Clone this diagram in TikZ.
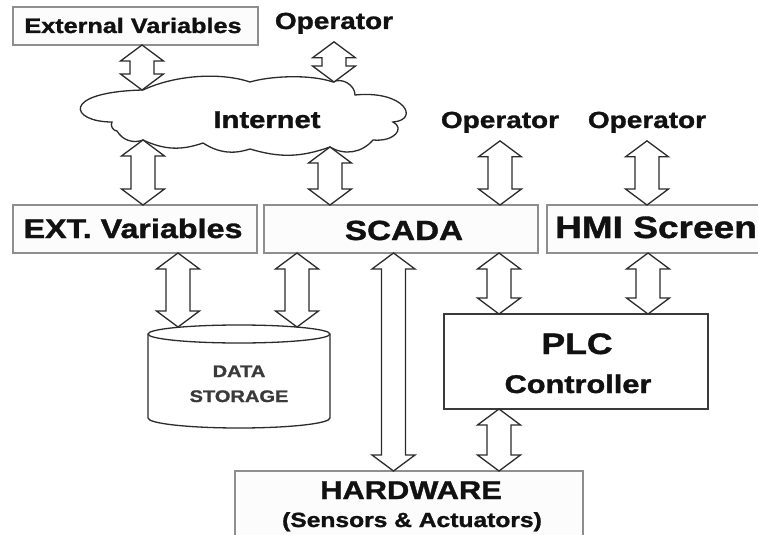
\documentclass[tikz,border=0pt]{standalone}
\usepackage{fontspec}
\setmainfont{Liberation Sans}[BoldFeatures={FakeBold=1.2}]
\usetikzlibrary{calc}
\definecolor{textc}{HTML}{111111}
\definecolor{edgec}{HTML}{8E8E8E}
\definecolor{darkedge}{HTML}{3A3A3A}
\definecolor{arrowc}{HTML}{2B2B2B}
\definecolor{boxfill}{HTML}{FCFCFC}
% wide bold lettering
\newcommand{\wtxt}[1]{\scalebox{1.2}[1]{#1}}
\newcommand{\fsz}[1]{\fontsize{#1}{#1}\selectfont\bfseries}

\begin{document}
\begin{tikzpicture}[x=1pt,y=-1pt,
  lightbox/.style={draw=edgec, fill=boxfill, line width=1.4pt, inner sep=0, outer sep=0, rectangle},
  darkbox/.style={draw=darkedge, fill=white, line width=1.6pt, inner sep=0, outer sep=0, rectangle},
  lbl/.style={inner sep=0, outer sep=0, anchor=base, text=textc},
  oplbl/.style={lbl, outer ysep=8pt, font=\fsz{23.3}},
  outline/.style={draw=arrowc, line width=1.3pt},
  dblarrow/.style={outline, fill=white, line join=miter,
    to path={let \p1=(\tikztostart), \p2=(\tikztotarget) in
      (\x1,\y1) -- (\x1+21.5pt,\y1-16pt) -- (\x1+12pt,\y1-16pt) -- (\x1+12pt,\y2+16pt)
      -- (\x1+21.5pt,\y2+16pt) -- (\x1,\y2) -- (\x1-21.5pt,\y2+16pt) -- (\x1-12pt,\y2+16pt)
      -- (\x1-12pt,\y1-16pt) -- (\x1-21.5pt,\y1-16pt) -- cycle}}
]
\useasboundingbox (0,0) rectangle (758,535);
\clip (0,0) rectangle (758,535);

% column positions of the vertical connectors
\coordinate (xA) at (142,0);
\coordinate (xG) at (178,0);
\coordinate (xH) at (297,0);
\coordinate (xI) at (393.5,0);
\coordinate (xJ) at (499,0);
\coordinate (xK) at (648,0);

% boxes
\node[lightbox, minimum width=245, minimum height=38] (extsmall) at (135.5,26) {};
\node[lightbox, minimum width=244, minimum height=48] (extbig) at (135,229) {};
\node[lightbox, minimum width=274, minimum height=48] (scada) at (401,229) {};
\node[lightbox, minimum width=218, minimum height=48] (hmi) at (656,229) {};
\node[darkbox, minimum width=264, minimum height=95] (plc) at (576,361.5) {};
\node[lightbox, minimum width=348, minimum height=89] (hw) at (409,515.5) {};

% Internet cloud, built from its cusp points
\coordinate (q0) at (112,122);
\coordinate (cA) at (143,90);
\coordinate (q2) at (250,82);
\coordinate (cB) at (333,82);
\coordinate (q4) at (355,95);
\coordinate (q5) at (393,122);
\coordinate (q6) at (373,140);
\coordinate (cD) at (330,147);
\coordinate (q8) at (250,149);
\coordinate (q9) at (203,143);
\coordinate (cC) at (143,140);
\coordinate (q11) at (117,131);
\draw[outline, fill=white]
  (q0) .. controls (70,122) and (60,92) .. (cA)
  .. controls (175,75) and (220,72) .. (q2)
  .. controls (270,76) and (310,74) .. (cB)
  to[bend left=60] (q4)
  .. controls (405,90) and (420,120) .. (q5)
  .. controls (405,128) and (395,142) .. (q6)
  to[bend left=40] (cD) to[bend left=18] (q8) to[bend left=25] (q9)
  to[bend left=22] (cC) to[bend left=40] (q11) to[bend left=60] (q0) -- cycle;

% data storage cylinder
\draw[outline, fill=white]
  (148,334) -- (148,418) arc[start angle=180, end angle=0, x radius=91, y radius=10]
  -- (330,334) arc[start angle=0, end angle=-180, x radius=91, y radius=9] -- cycle;
\draw[outline] (148,334) arc[start angle=180, end angle=0, x radius=91, y radius=9];
\coordinate (dsA) at (178,327);
\coordinate (dsB) at (297,327);

% labels
\node[lbl, font=\fsz{21}] (extsmalltxt) at (133,33) {\wtxt{External Variables}};
\node[oplbl] (op1) at (334,29) {\wtxt{Operator}};
\node[lbl, font=\fsz{24.3}] (inet) at (267,128) {\wtxt{Internet}};
\node[oplbl] (op2) at (500,128) {\wtxt{Operator}};
\node[oplbl] (op3) at (647,128) {\wtxt{Operator}};
\node[lbl, font=\fsz{26.9}] (extbigtxt) at (133,238) {\wtxt{EXT. Variables}};
\node[lbl, font=\fsz{27.7}] (scadatxt) at (404,240) {\wtxt{SCADA}};
\node[lbl, font=\fsz{30.9}] (hmitxt) at (656,238) {\wtxt{HMI Screen}};
\node[lbl, font=\fsz{29.6}] (plctxt) at (577,354) {\wtxt{PLC}};
\node[lbl, font=\fsz{25.6}] (ctrltxt) at (578,393) {\wtxt{Controller}};
\node[lbl, font=\fsz{25.7}] (hwtxt) at (411,499) {\wtxt{HARDWARE}};
\node[lbl, font=\fsz{20.5}] (senstxt) at (412,527) {\wtxt{(Sensors \& Actuators)}};
\node[lbl, font=\fsz{16.7}, text=darkedge] (datatxt) at (239,377) {\wtxt{DATA}};
\node[lbl, font=\fsz{16.7}, text=darkedge] (stortxt) at (239,402) {\wtxt{STORAGE}};

% connectors
\draw[dblarrow] (extsmall.south -| xA) to (cA);
\draw[dblarrow] (op1.south) to (cB);
\draw[dblarrow] (cC) to (extbig.north);
\draw[dblarrow] (cD) to (scada.north);
\draw[dblarrow] (op2.south) to (scada.north);
\draw[dblarrow] (op3.south) to (hmi.north);
\draw[dblarrow] (extbig.south -| xG) to (dsA);
\draw[dblarrow] (scada.south -| xH) to (dsB);
\draw[dblarrow] (scada.south -| xI) to (hw.north);
\draw[dblarrow] (scada.south -| xJ) to (plc.north);
\draw[dblarrow] (hmi.south -| xK) to (plc.north);
\draw[dblarrow] (plc.south -| xJ) to (hw.north);
\end{tikzpicture}
\end{document}
